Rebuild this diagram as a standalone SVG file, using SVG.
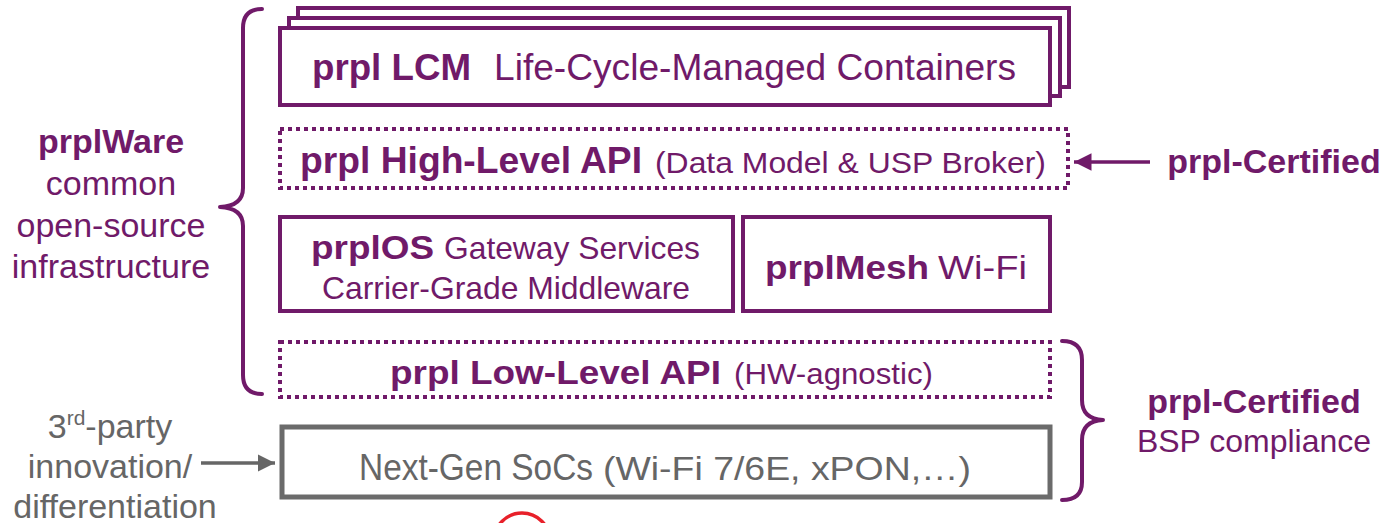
<svg xmlns="http://www.w3.org/2000/svg" width="1387" height="523" viewBox="0 0 1387 523">
<style>
text{font-family:"Liberation Sans",Arial,sans-serif;}
.p{fill:#701a69;}
.g{fill:#666666;}
.b{font-weight:bold;}
.box{fill:#fff;stroke:#701a69;stroke-width:4;}
.dot{fill:none;stroke:#701a69;stroke-width:4;stroke-dasharray:4 4;}
.gbox{fill:none;stroke:#6b6b6b;stroke-width:5;}
.br{fill:none;stroke:#701a69;stroke-width:4;stroke-linecap:round;stroke-linejoin:round;}
</style>
<defs>
<marker id="ap" markerWidth="6" markerHeight="6" refX="5" refY="3" orient="auto" markerUnits="strokeWidth"><path d="M0,0.5 L5,3 L0,5.5 z" fill="#701a69"/></marker>
<marker id="ag" markerWidth="6" markerHeight="6" refX="5" refY="3" orient="auto" markerUnits="strokeWidth"><path d="M0,0.5 L5,3 L0,5.5 z" fill="#666666"/></marker>
</defs>
<g id="lcm">
<rect class="box" x="298" y="8" width="771" height="79"/>
<rect class="box" x="289" y="18" width="771" height="78"/>
<rect class="box" x="280" y="28" width="770" height="77"/>
<text class="p b" x="312" y="80" font-size="37" textLength="159" lengthAdjust="spacingAndGlyphs">prpl LCM</text>
<text class="p" x="494" y="80" font-size="36" textLength="522" lengthAdjust="spacingAndGlyphs">Life-Cycle-Managed Containers</text>
</g>
<g id="highapi">
<rect class="dot" x="280" y="129" width="788" height="59"/>
<text class="p b" x="300" y="173" font-size="36" textLength="342" lengthAdjust="spacingAndGlyphs">prpl High-Level API</text>
<text class="p" x="655" y="173" font-size="30" textLength="391" lengthAdjust="spacingAndGlyphs">(Data Model &amp; USP Broker)</text>
</g>
<g id="prplos">
<rect class="box" x="280" y="217" width="453" height="94"/>
<text class="p b" x="311" y="259" font-size="34" textLength="123" lengthAdjust="spacingAndGlyphs">prplOS</text>
<text class="p" x="444" y="259" font-size="32" textLength="256" lengthAdjust="spacingAndGlyphs">Gateway Services</text>
<text class="p" x="322" y="299" font-size="32" textLength="368" lengthAdjust="spacingAndGlyphs">Carrier-Grade Middleware</text>
</g>
<g id="prplmesh">
<rect class="box" x="743" y="217" width="307" height="94"/>
<text class="p b" x="765" y="279" font-size="34" textLength="164" lengthAdjust="spacingAndGlyphs">prplMesh</text>
<text class="p" x="938" y="279" font-size="34" textLength="89" lengthAdjust="spacingAndGlyphs">Wi-Fi</text>
</g>
<g id="lowapi">
<rect class="dot" x="280" y="342" width="770" height="55"/>
<text class="p b" x="390" y="384" font-size="34" textLength="331" lengthAdjust="spacingAndGlyphs">prpl Low-Level API</text>
<text class="p" x="734" y="384" font-size="30" textLength="199" lengthAdjust="spacingAndGlyphs">(HW-agnostic)</text>
</g>
<g id="soc">
<rect class="gbox" x="282" y="427" width="768" height="70"/>
<text class="g" x="359" y="480" font-size="36" textLength="234" lengthAdjust="spacingAndGlyphs">Next-Gen SoCs</text>
<text class="g" x="603" y="480" font-size="33" textLength="368" lengthAdjust="spacingAndGlyphs">(Wi-Fi 7/6E, xPON,…)</text>
</g>
<g id="prplware">
<text class="p" x="111" y="153" font-size="34" text-anchor="middle"><tspan class="b">prplWare</tspan><tspan x="111" y="195">common</tspan><tspan x="111" y="237">open-source</tspan><tspan x="111" y="278">infrastructure</tspan></text>
</g>
<g id="cert1">
<text class="p b" x="1274" y="173" font-size="34" text-anchor="middle">prpl-Certified</text>
</g>
<g id="cert2">
<text class="p" x="1254" y="413" font-size="34" text-anchor="middle"><tspan class="b">prpl-Certified</tspan><tspan x="1254" y="452" font-size="32">BSP compliance</tspan></text>
</g>
<g id="thirdparty">
<text class="g" x="110" y="438" font-size="34" text-anchor="middle">3<tspan font-size="21" dy="-13">rd</tspan><tspan dy="13">-party</tspan><tspan x="110" y="478">innovation/</tspan><tspan x="115" y="518">differentiation</tspan></text>
</g>
<g id="connectors">
<path class="br" d="M262,9 Q243,9 243,28 L243,188 Q243,206 220,207 Q243,208 243,226 L243,375 Q243,394 262,394"/>
<path class="br" d="M1062,341 Q1082,341 1082,360 L1082,400 Q1082,419 1103,420 Q1082,421 1082,440 L1082,482 Q1082,500 1062,500"/>
<line x1="1150" y1="162" x2="1074" y2="162" stroke="#701a69" stroke-width="3.5" marker-end="url(#ap)"/>
<line x1="201" y1="463" x2="275" y2="463" stroke="#666666" stroke-width="3.5" marker-end="url(#ag)"/>
<circle cx="522" cy="541" r="28" fill="none" stroke="#e8202a" stroke-width="3.5"/>
</g>
</svg>
